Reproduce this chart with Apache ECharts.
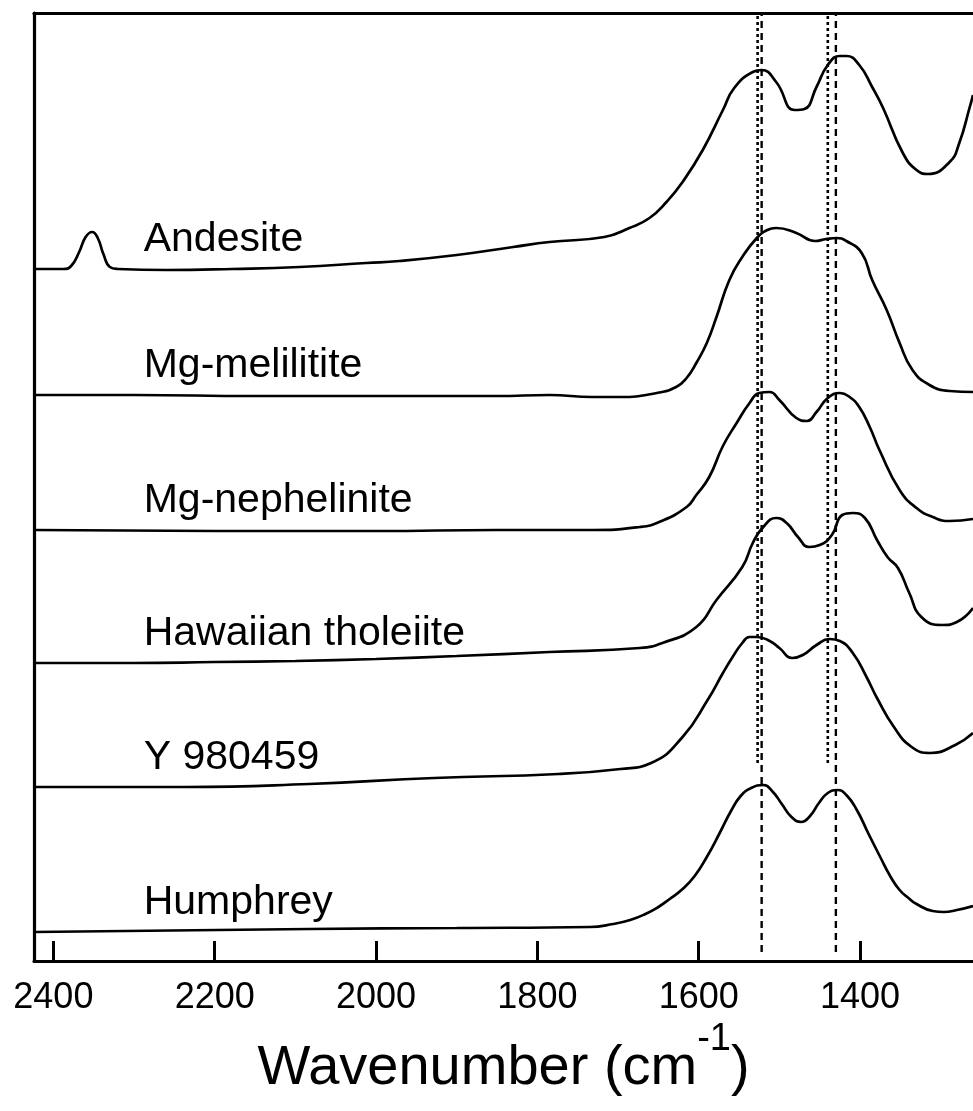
<!DOCTYPE html>
<html>
<head>
<meta charset="utf-8">
<title>IR spectra, carbonate region</title>
<script src="https://cdn.jsdelivr.net/npm/echarts@6/dist/echarts.min.js"></script>
<style>
  html, body { margin: 0; padding: 0; background: #fff; }
  #chart { width: 973px; height: 1111px; }
</style>
</head>
<body>
<div id="chart"></div>
<script>
// Stacked absorbance spectra, [wavenumber (cm-1), offset absorbance (arb. units)]
const andesite = [
  [2424, 692], [2400, 692], [2388, 692], [2378, 695], [2368, 709], [2360, 724], [2352, 729],
  [2345, 723], [2338, 707], [2330, 694], [2320, 692], [2260, 691], [2178, 692], [2095, 694],
  [2012, 698], [1971, 700], [1900, 706], [1830, 714], [1785, 719], [1717, 724], [1686, 733],
  [1661, 743], [1640, 759], [1620, 779], [1595, 811], [1570, 851], [1556, 873], [1533, 889],
  [1522, 891], [1504, 879], [1481, 851], [1469, 852], [1454, 874], [1440, 896], [1425, 905],
  [1417, 905], [1401, 896], [1385, 874], [1372, 854], [1347, 808], [1330, 791], [1316, 787],
  [1289, 799], [1277, 818], [1264, 854], [1260, 866]
];
const mgMelilitite = [
  [2424, 566], [2300, 566], [2150, 565], [2000, 565], [1850, 565], [1785, 566], [1732, 564],
  [1698, 564], [1652, 568], [1628, 574], [1615, 583], [1603, 598], [1590, 618], [1578, 644],
  [1562, 681], [1546, 704], [1528, 723], [1515, 731], [1504, 733], [1479, 728], [1456, 720],
  [1442, 722], [1429, 723], [1417, 720], [1398, 708], [1385, 681], [1367, 651], [1351, 618],
  [1335, 591], [1314, 576], [1289, 570], [1260, 569]
];
const mgNephelinite = [
  [2424, 431], [2200, 430], [2000, 430], [1850, 431], [1785, 431], [1732, 431], [1673, 434],
  [1649, 439], [1615, 454], [1603, 466], [1587, 484], [1570, 515], [1553, 538], [1537, 558],
  [1525, 568], [1512, 569], [1500, 561], [1479, 543], [1466, 540], [1454, 549], [1440, 563],
  [1425, 568], [1413, 564], [1401, 554], [1388, 534], [1376, 511], [1351, 471], [1330, 453],
  [1310, 444], [1289, 440], [1260, 442]
];
const hawaiianTholeiite = [
  [2424, 298], [2300, 298], [2200, 299], [2100, 300], [2000, 302], [1900, 305], [1785, 309],
  [1673, 313], [1645, 318], [1603, 334], [1578, 361], [1546, 394], [1533, 418], [1521, 433],
  [1504, 443], [1491, 438], [1477, 424], [1463, 414], [1450, 416], [1435, 426], [1422, 446],
  [1409, 448], [1394, 443], [1379, 421], [1366, 404], [1353, 393], [1339, 368], [1324, 344],
  [1298, 336], [1280, 339], [1260, 353]
];
const y980459 = [
  [2424, 174], [2236, 174], [2083, 177], [1928, 183], [1774, 187], [1697, 192], [1659, 198],
  [1620, 224], [1589, 261], [1570, 288], [1558, 304], [1546, 318], [1537, 324], [1528, 324],
  [1512, 320], [1500, 313], [1484, 303], [1471, 306], [1454, 316], [1438, 322], [1425, 320],
  [1409, 308], [1392, 284], [1379, 263], [1358, 234], [1336, 214], [1313, 208], [1282, 216],
  [1260, 228]
];
const humphrey = [
  [2424, 29], [2083, 32], [1900, 33], [1735, 34], [1706, 37], [1685, 41], [1666, 47],
  [1650, 54], [1636, 62], [1620, 72], [1605, 85], [1590, 104], [1574, 128], [1560, 150],
  [1548, 165], [1535, 173], [1520, 176], [1508, 169], [1497, 157], [1485, 144], [1473, 139],
  [1462, 145], [1451, 158], [1440, 168], [1428, 171], [1417, 166], [1404, 151], [1390, 128],
  [1375, 104], [1362, 84], [1351, 71], [1340, 63], [1330, 57], [1310, 50], [1296, 49],
  [1280, 51], [1260, 55]
];

const spectra = [andesite, mgMelilitite, mgNephelinite, hawaiianTholeiite, y980459, humphrey];
const sampleNames = ['Andesite', 'Mg-melilitite', 'Mg-nephelinite', 'Hawaiian tholeiite', 'Y 980459', 'Humphrey'];
const tickValues = [2400, 2200, 2000, 1800, 1600, 1400];

// Reference band positions (cm-1)
const dashedBands = [1522, 1430];
const dottedBands = [1527, 1440];
const dashedRange = [9, 948];
const dottedRange = [198, 948];

const labelWavenumber = 2288;
const xRange = [1260, 2424];
const yRange = [0, 948];

const FONT = "'Liberation Sans', Arial, Helvetica, sans-serif";

const series = [];

spectra.forEach((data, i) => {
  series.push({
    name: sampleNames[i],
    type: 'line',
    data: data,
    smooth: 0.5,
    symbol: 'none',
    clip: true,
    lineStyle: { color: '#000', width: 2.7 },
    z: 3
  });
  // sample name set just above its baseline
  series.push({
    name: sampleNames[i] + ' label',
    type: 'scatter',
    data: [[labelWavenumber, data[0][1] + 29]],
    symbolSize: 0,
    silent: true,
    itemStyle: { opacity: 1, color: '#000' },
    label: {
      show: true,
      position: 'right',
      distance: 0,
      formatter: sampleNames[i],
      color: '#000',
      opacity: 1,
      fontFamily: FONT,
      fontSize: 41
    },
    z: 4
  });
});

dashedBands.forEach((w) => {
  series.push({
    type: 'line',
    data: [[w, dashedRange[0]], [w, dashedRange[1]]],
    symbol: 'none',
    silent: true,
    lineStyle: { color: '#000', width: 2.4, type: [7, 5] },
    z: 2
  });
});
dottedBands.forEach((w) => {
  series.push({
    type: 'line',
    data: [[w, dottedRange[0]], [w, dottedRange[1]]],
    symbol: 'none',
    silent: true,
    lineStyle: { color: '#000', width: 2.6, type: [3, 3] },
    z: 2
  });
});

const chart = echarts.init(document.getElementById('chart'), null, { renderer: 'canvas' });

chart.setOption({
  animation: false,
  backgroundColor: '#fff',
  grid: { left: 34, right: 0, top: 13, bottom: 150 },
  xAxis: [
    {
      type: 'value',
      position: 'bottom',
      inverse: true,
      min: xRange[0],
      max: xRange[1],
      axisLine: { show: true, lineStyle: { color: '#000', width: 3.2 } },
      axisTick: {
        show: true, inside: true, length: 20,
        customValues: tickValues,
        lineStyle: { color: '#000', width: 3 }
      },
      axisLabel: {
        show: true, margin: 19,
        customValues: tickValues,
        formatter: (v) => String(v),
        color: '#000', fontFamily: FONT, fontSize: 36
      },
      splitLine: { show: false },
      name: '{m|Wavenumber (cm}{s|-1}{m|)}',
      nameLocation: 'middle',
      nameGap: 58,
      nameTextStyle: {
        rich: {
          m: { fontFamily: FONT, fontSize: 56, color: '#000', verticalAlign: 'bottom' },
          s: { fontFamily: FONT, fontSize: 38, color: '#000', verticalAlign: 'top', padding: [0, 0, 38, 0] }
        }
      }
    },
    {
      type: 'value',
      position: 'top',
      inverse: true,
      min: xRange[0],
      max: xRange[1],
      axisLine: { show: true, lineStyle: { color: '#000', width: 3.2 } },
      axisTick: { show: false },
      axisLabel: { show: false },
      splitLine: { show: false }
    }
  ],
  yAxis: {
    type: 'value',
    min: yRange[0],
    max: yRange[1],
    axisLine: { show: true, lineStyle: { color: '#000', width: 3.2 } },
    axisTick: { show: false },
    axisLabel: { show: false },
    splitLine: { show: false }
  },
  series: series
});
</script>
</body>
</html>
